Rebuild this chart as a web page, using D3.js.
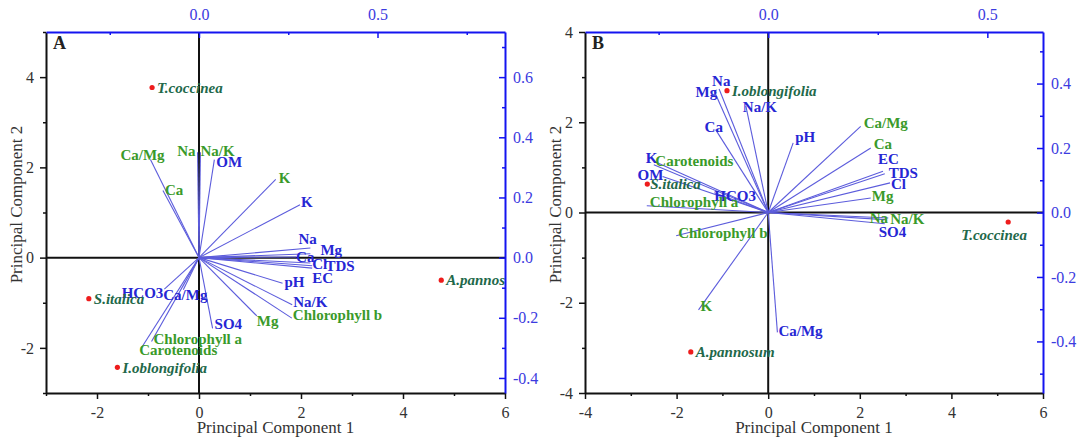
<!DOCTYPE html>
<html>
<head>
<meta charset="utf-8">
<script src="https://cdn.jsdelivr.net/npm/d3@7"></script>
<style>
  body { margin: 0; background: #fff; }
  svg { display: block; font-family: "Liberation Serif", "Times New Roman", serif; }
</style>
</head>
<body>
<svg width="1081" height="437"></svg>
<script>
  // ---- panel A data ----
  const speciesA = ['T.coccinea', 'S.italica', 'I.oblongifolia', 'A.pannosum'];
  const scoreA1 = [-0.92, -2.16, -1.60, 4.75];
  const scoreA2 = [3.77, -0.91, -2.43, -0.50];

  const varsA = ['Ca/Mg', 'Ca', 'Na', 'Na/K', 'K', 'Mg', 'Chlorophyll b', 'Chlorophyll a', 'Carotenoids',
    'OM', 'K', 'Na', 'Mg', 'Ca', 'Cl', 'TDS', 'EC', 'pH', 'Na/K', 'SO4', 'HCO3', 'Ca/Mg'];
  const groupA = ['plant', 'plant', 'plant', 'plant', 'plant', 'plant', 'plant', 'plant', 'plant',
    'soil', 'soil', 'soil', 'soil', 'soil', 'soil', 'soil', 'soil', 'soil', 'soil', 'soil', 'soil', 'soil'];
  const loadA1 = [-0.136, -0.101, -0.004, 0.004, 0.215, 0.162, 0.26, -0.133, -0.162,
    0.043, 0.283, 0.312, 0.312, 0.272, 0.317, 0.312, 0.317, 0.234, 0.261, 0.038, -0.097, -0.044];
  const loadA2 = [0.326, 0.223, 0.35, 0.35, 0.26, -0.194, -0.201, -0.279, -0.301,
    0.326, 0.176, 0.032, 0.013, 0.002, -0.027, -0.018, -0.035, -0.085, -0.157, -0.235, -0.105, -0.107];

  // ---- panel B data ----
  const speciesB = ['I.oblongifolia', 'S.italica', 'A.pannosum', 'T.coccinea'];
  const scoreB1 = [-0.90, -2.64, -1.69, 5.24];
  const scoreB2 = [2.70, 0.63, -3.09, -0.21];

  const varsB = ['Na', 'Mg', 'Na/K', 'Ca', 'pH', 'K', 'OM', 'HCO3', 'EC', 'TDS', 'Cl', 'SO4', 'Ca/Mg',
    'Ca/Mg', 'Ca', 'Mg', 'Na', 'Na/K', 'Carotenoids', 'Chlorophyll a', 'Chlorophyll b', 'K'];
  const groupB = ['soil', 'soil', 'soil', 'soil', 'soil', 'soil', 'soil', 'soil', 'soil', 'soil', 'soil', 'soil', 'soil',
    'plant', 'plant', 'plant', 'plant', 'plant', 'plant', 'plant', 'plant', 'plant'];
  const loadB1 = [-0.112, -0.123, -0.051, -0.12, 0.057, -0.261, -0.241, -0.123, 0.262, 0.266, 0.278, 0.266, 0.021,
    0.211, 0.234, 0.234, 0.266, 0.274, -0.253, -0.277, -0.21, -0.159];
  const loadB2 = [0.383, 0.376, 0.331, 0.257, 0.216, 0.148, 0.112, 0.061, 0.128, 0.12, 0.092, -0.035, -0.372,
    0.267, 0.2, 0.045, -0.022, -0.017, 0.154, 0.021, -0.072, -0.302];

  // ---- ticks ----
  const xTicksA = [-2, 0, 2, 4, 6], xMinorA = [-3, -1, 1, 3, 5];
  const yTicksA = [-2, 0, 2, 4], yMinorA = [-3, -1, 1, 3, 5];
  const topTicksA = [0, 0.5], topMinorA = [-0.25, 0.25, 0.75];
  const rightTicksA = [-0.4, -0.2, 0, 0.2, 0.4, 0.6], rightMinorA = [-0.3, -0.1, 0.1, 0.3, 0.5, 0.7];

  const xTicksB = [-4, -2, 0, 2, 4, 6], xMinorB = [-3, -1, 1, 3, 5];
  const yTicksB = [-4, -2, 0, 2, 4], yMinorB = [-3, -1, 1, 3];
  const topTicksB = [0, 0.5], topMinorB = [-0.25, 0.25];
  const rightTicksB = [-0.4, -0.2, 0, 0.2, 0.4], rightMinorB = [-0.5, -0.3, -0.1, 0.1, 0.3, 0.5];

  // label placement (pixel nudges from the arrow tip), layout only
  const nudgeA = [[-30, -5], [2, -1], [-2, -2, 'end'], [0, -2], [3, -2], [0, 5], [1, -3], [2, -3], [-2, 2],
    [2, 2], [1, -3], [-12, -9], [10, -4], [0, 0], [0, -2], [15, 3], [0, 10], [2, -1], [1, -3], [2, -5], [-1, 4, 'end'], [-20, 5]];
  const nudgeB = [[-7, -8], [3, 0, 'end'], [-3, 1], [-11, -3], [2, -6], [-8, -7], [-25, -2], [0, 3], [-5, -12], [4, -1], [1, 1], [-6, 8], [1, -2],
    [3, -4], [3, -4], [1, -2], [-15, -2], [2, 1], [-2, -2], [3, -4], [2, -3], [2, -4]];
  const speciesNudgeA = [[5, 0], [5, 0], [5, 0], [5, 0]];
  const speciesNudgeB = [[5, 0], [3, 0], [5, 0], [-14, 13, 'middle']];

  const colors = { soil: '#2626d4', plant: '#3a9a2a' };
  const vectorColor = '#5c5cdc';
  const speciesColor = '#22684a';
  const axisBlue = '#1414f0';

  const svg = d3.select('svg');

  const fmtInt = d => String(d);
  const fmtDec = d => d.toFixed(1);

  const biplot = (selection, props) => {
    const {
      id, letter, frame, xDomain, yDomain, topDomain, rightDomain,
      xTicks, xMinor, yTicks, yMinor, topTicks, topMinor, rightTicks, rightMinor,
      species, s1, s2, speciesNudge, vars, group, l1, l2, nudge
    } = props;

    const x = d3.scaleLinear().domain(xDomain).range([frame.left, frame.right]);
    const y = d3.scaleLinear().domain(yDomain).range([frame.bottom, frame.top]);
    const xl = d3.scaleLinear().domain(topDomain).range([frame.left, frame.right]);
    const yl = d3.scaleLinear().domain(rightDomain).range([frame.bottom, frame.top]);

    const g = selection.append('g');

    g.append('clipPath').attr('id', 'clip' + id)
      .append('rect')
        .attr('x', frame.left).attr('y', frame.top)
        .attr('width', frame.right - frame.left)
        .attr('height', frame.bottom - frame.top);

    const plot = g.append('g').attr('clip-path', `url(#clip${id})`);

    // zero lines
    plot.append('line')
      .attr('x1', frame.left).attr('x2', frame.right)
      .attr('y1', y(0)).attr('y2', y(0))
      .attr('stroke', '#111').attr('stroke-width', 2);
    plot.append('line')
      .attr('x1', x(0)).attr('x2', x(0))
      .attr('y1', frame.top).attr('y2', frame.bottom)
      .attr('stroke', '#111').attr('stroke-width', 2);

    const vecs = vars.map((v, i) => ({ name: v, group: group[i], a: l1[i], b: l2[i], n: nudge[i] }));

    plot.selectAll('line.vec').data(vecs)
      .enter().append('line')
        .attr('class', 'vec')
        .attr('x1', xl(0)).attr('y1', yl(0))
        .attr('x2', d => xl(d.a)).attr('y2', d => yl(d.b))
        .attr('stroke', vectorColor)
        .attr('stroke-width', 1.1);

    plot.selectAll('text.vec').data(vecs)
      .enter().append('text')
        .attr('class', 'vec')
        .attr('x', d => xl(d.a) + d.n[0])
        .attr('y', d => yl(d.b) + d.n[1])
        .attr('dy', '0.35em')
        .attr('text-anchor', d => d.n[2] || 'start')
        .attr('font-size', 15)
        .attr('font-weight', 'bold')
        .attr('fill', d => colors[d.group])
        .text(d => d.name);

    const pts = species.map((s, i) => ({ name: s, a: s1[i], b: s2[i], n: speciesNudge[i] }));

    plot.selectAll('circle').data(pts)
      .enter().append('circle')
        .attr('cx', d => x(d.a)).attr('cy', d => y(d.b))
        .attr('r', 2.6)
        .attr('fill', '#ee1c1c');

    plot.selectAll('text.sp').data(pts)
      .enter().append('text')
        .attr('class', 'sp')
        .attr('x', d => x(d.a) + d.n[0])
        .attr('y', d => y(d.b) + d.n[1])
        .attr('dy', '0.35em')
        .attr('text-anchor', d => d.n[2] || 'start')
        .attr('font-size', 15)
        .attr('font-style', 'italic')
        .attr('font-weight', 'bold')
        .attr('fill', speciesColor)
        .text(d => d.name);

    // axes
    const styleAxis = (ax, color) => {
      ax.select('.domain').attr('stroke', color).attr('stroke-width', 2);
      ax.selectAll('.tick line').attr('stroke', color).attr('stroke-width', 1.5);
      ax.selectAll('.tick text')
        .attr('fill', color === axisBlue ? '#3b3be0' : '#333')
        .attr('font-size', 16)
        .attr('font-family', '"Liberation Serif", "Times New Roman", serif');
    };

    const addAxis = (axisMaker, scale, major, minor, fmt, size, pad, transform, color) => {
      const gMinor = g.append('g').attr('transform', transform)
        .call(axisMaker(scale).tickValues(minor).tickSizeInner(size / 2).tickSizeOuter(0).tickFormat(''));
      gMinor.select('.domain').remove();
      gMinor.selectAll('.tick line').attr('stroke', color).attr('stroke-width', 1.5);
      const gMajor = g.append('g').attr('transform', transform)
        .call(axisMaker(scale).tickValues(major).tickSizeInner(size).tickSizeOuter(0).tickPadding(pad).tickFormat(fmt));
      styleAxis(gMajor, color);
    };

    addAxis(d3.axisBottom, x, xTicks, xMinor, fmtInt, 6, 8, `translate(0,${frame.bottom})`, '#111');
    addAxis(d3.axisLeft, y, yTicks, yMinor, fmtInt, 6, 6, `translate(${frame.left},0)`, '#111');
    addAxis(d3.axisTop, xl, topTicks, topMinor, fmtDec, -6, 12, `translate(0,${frame.top})`, axisBlue);
    addAxis(d3.axisRight, yl, rightTicks, rightMinor, fmtDec, -6, 8, `translate(${frame.right},0)`, axisBlue);

    // titles
    const cx = (frame.left + frame.right) / 2;
    const cy = (frame.top + frame.bottom) / 2;
    g.append('text')
      .attr('x', cx).attr('y', 433)
      .attr('text-anchor', 'middle')
      .attr('font-size', 17)
      .attr('fill', '#333')
      .text('Principal Component 1');
    g.append('text')
      .attr('transform', `translate(${frame.left - 24},${cy - 8}) rotate(-90)`)
      .attr('text-anchor', 'middle')
      .attr('font-size', 17)
      .attr('fill', '#333')
      .text('Principal Component 2');

    g.append('text')
      .attr('x', frame.left + 7).attr('y', frame.top + 17)
      .attr('font-size', 18)
      .attr('font-weight', 'bold')
      .attr('fill', '#222')
      .text(letter);
  };

  svg.call(biplot, {
    id: 'A', letter: 'A',
    frame: { left: 46, right: 505, top: 32, bottom: 393 },
    xDomain: [-3, 6], yDomain: [-3, 5],
    topDomain: [-3 / 7, 6 / 7], rightDomain: [-0.45, 0.75],
    xTicks: xTicksA, xMinor: xMinorA, yTicks: yTicksA, yMinor: yMinorA,
    topTicks: topTicksA, topMinor: topMinorA, rightTicks: rightTicksA, rightMinor: rightMinorA,
    species: speciesA, s1: scoreA1, s2: scoreA2, speciesNudge: speciesNudgeA,
    vars: varsA, group: groupA, l1: loadA1, l2: loadA2, nudge: nudgeA
  });

  svg.call(biplot, {
    id: 'B', letter: 'B',
    frame: { left: 585, right: 1043, top: 32, bottom: 393 },
    xDomain: [-4, 6], yDomain: [-4, 4],
    topDomain: [-0.418, 0.627], rightDomain: [-0.56, 0.56],
    xTicks: xTicksB, xMinor: xMinorB, yTicks: yTicksB, yMinor: yMinorB,
    topTicks: topTicksB, topMinor: topMinorB, rightTicks: rightTicksB, rightMinor: rightMinorB,
    species: speciesB, s1: scoreB1, s2: scoreB2, speciesNudge: speciesNudgeB,
    vars: varsB, group: groupB, l1: loadB1, l2: loadB2, nudge: nudgeB
  });
</script>
</body>
</html>
